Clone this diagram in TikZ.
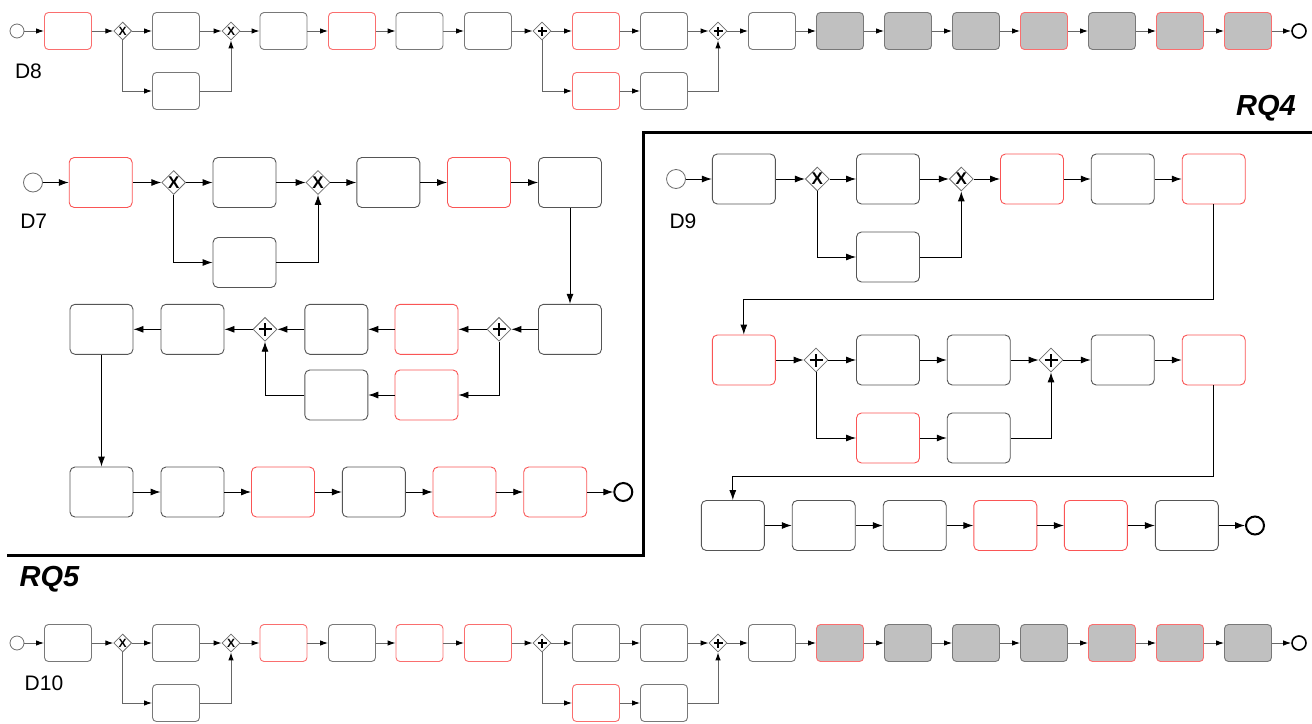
\documentclass[tikz,border=0pt]{standalone}
\usepackage{fontspec}
\setmainfont{Liberation Sans}
\usepackage{tikz}
\usetikzlibrary{shapes.geometric, arrows.meta, positioning, calc}
\definecolor{tline}{RGB}{85,85,85}
\definecolor{tred}{RGB}{250,85,85}
\definecolor{sline}{RGB}{120,120,120}
\definecolor{sred}{RGB}{250,110,110}
\definecolor{gfill}{RGB}{192,192,192}
\definecolor{gwline}{RGB}{110,110,110}
\tikzset{
  task/.style={rectangle, draw=tline, fill=white, rounded corners=5pt,
    minimum width=63pt, minimum height=50pt, inner sep=0pt, line width=0.9pt},
  rtask/.style={task, draw=tred},
  stask/.style={rectangle, draw=sline, fill=white, rounded corners=4pt,
    minimum width=47pt, minimum height=37pt, inner sep=0pt, line width=0.9pt},
  srtask/.style={stask, draw=sred},
  sgtask/.style={stask, fill=gfill},
  sgrtask/.style={stask, fill=gfill, draw=sred},
  xgw/.style={diamond, aspect=1, draw=gwline, fill=white, minimum size=24pt,
    inner sep=0pt, line width=0.8pt, font=\bfseries\fontsize{17}{17}\selectfont},
  sxgw/.style={xgw, minimum size=18pt, font=\bfseries\fontsize{12}{12}\selectfont},
  pgw/.style={xgw, path picture={
    \draw[black, line width=2.2pt] ([xshift=-6.5pt]path picture bounding box.center) -- ([xshift=6.5pt]path picture bounding box.center)
      ([yshift=-6.5pt]path picture bounding box.center) -- ([yshift=6.5pt]path picture bounding box.center);}},
  spgw/.style={sxgw, path picture={
    \draw[black, line width=1.7pt] ([xshift=-4.5pt]path picture bounding box.center) -- ([xshift=4.5pt]path picture bounding box.center)
      ([yshift=-4.5pt]path picture bounding box.center) -- ([yshift=4.5pt]path picture bounding box.center);}},
  start/.style={circle, draw=gwline, fill=white, minimum size=19pt, inner sep=0pt, line width=0.8pt},
  sstart/.style={start, minimum size=14pt},
  mend/.style={circle, draw=black, fill=white, minimum size=18pt, inner sep=0pt, line width=2pt},
  send/.style={mend, minimum size=14pt, line width=1.6pt},
  flow/.style={-{Latex[length=10pt,width=7pt]}, draw=black, line width=0.9pt},
  sflow/.style={-{Latex[length=8pt,width=5.5pt,color=black]}, draw=black!60, line width=1pt},
  dlabel/.style={font=\fontsize{21}{21}\selectfont, inner sep=0pt},
  rqlabel/.style={font=\bfseries\itshape\fontsize{29}{29}\selectfont, inner sep=0pt}
}
\begin{document}
\begin{tikzpicture}[x=1pt, y=-1pt]
  \useasboundingbox (0,0) rectangle (1312,723);
  % Frame between RQ4 and RQ5
  \draw[line width=3pt] (1312,132) -- (643.3,132) -- (643.3,555) -- (7,555);
  \node[rqlabel] (rq4) at (1266,108) {RQ4};
  \node[rqlabel] (rq5) at (49.5,579) {RQ5};

  % D8
  \node[dlabel] (d8lab) at (28.5,71) {D8};
  \node[sstart] (d8s) at (17,31) {};
  \node[srtask] (d8a) at (68,31) {};
  \node[sxgw] (d8x1) at (122.7,31) {X};
  \node[stask] (d8b) at (176,31) {};
  \node[stask] (d8bl) at (176,91) {};
  \node[sxgw] (d8x2) at (231,31) {X};
  \node[stask] (d8c) at (283.5,31) {};
  \node[srtask] (d8d) at (352,31) {};
  \node[stask] (d8e) at (419.5,31) {};
  \node[stask] (d8f) at (488,31) {};
  \node[spgw] (d8p1) at (542,31) {};
  \node[srtask] (d8g) at (596,31) {};
  \node[srtask] (d8gl) at (596,91) {};
  \node[stask] (d8h) at (664,31) {};
  \node[stask] (d8hl) at (664,91) {};
  \node[spgw] (d8p2) at (718,31) {};
  \node[stask] (d8i) at (772,31) {};
  \node[sgtask] (d8j) at (840,31) {};
  \node[sgtask] (d8k) at (908,31) {};
  \node[sgtask] (d8l) at (976,31) {};
  \node[sgrtask] (d8m) at (1044,31) {};
  \node[sgtask] (d8n) at (1112,31) {};
  \node[sgrtask] (d8o) at (1180,31) {};
  \node[sgrtask] (d8p) at (1248,31) {};
  \node[send] (d8end) at (1299,31) {};
  \foreach \a/\b in {d8s/d8a, d8a/d8x1, d8x1/d8b, d8b/d8x2, d8x2/d8c, d8c/d8d, d8d/d8e,
      d8e/d8f, d8f/d8p1, d8p1/d8g, d8g/d8h, d8h/d8p2, d8p2/d8i, d8i/d8j, d8j/d8k,
      d8k/d8l, d8l/d8m, d8m/d8n, d8n/d8o, d8o/d8p, d8p/d8end, d8gl/d8hl}
    \draw[sflow] (\a) -- (\b);
  \draw[sflow] (d8x1.south) |- (d8bl);
  \draw[sflow] (d8bl) -| (d8x2.south);
  \draw[sflow] (d8p1.south) |- (d8gl);
  \draw[sflow] (d8hl) -| (d8p2.south);

  % D7
  \node[dlabel] (d7lab) at (33.7,221) {D7};
  \node[start] (d7s) at (33,182.5) {};
  \node[rtask] (d7a) at (100.7,182.5) {};
  \node[xgw] (d7x1) at (173.7,182.5) {X};
  \node[task] (d7b) at (244.5,182.5) {};
  \node[task] (d7bl) at (244.5,262.5) {};
  \node[xgw] (d7x2) at (318,182.5) {X};
  \node[task] (d7c) at (388.3,182.5) {};
  \node[rtask] (d7d) at (479,182.5) {};
  \node[task] (d7e) at (570,182.5) {};
  \node[task] (d7f) at (570,329.3) {};
  \node[pgw] (d7p1) at (499,329.3) {};
  \node[rtask] (d7g) at (426.5,329.3) {};
  \node[rtask] (d7gl) at (426.5,395) {};
  \node[task] (d7h) at (336.3,329.3) {};
  \node[task] (d7hl) at (336.3,395) {};
  \node[pgw] (d7p2) at (265,329.3) {};
  \node[task] (d7i) at (192.5,329.3) {};
  \node[task] (d7j) at (101.5,329.3) {};
  \node[task] (d7k) at (101.5,492) {};
  \node[task] (d7l) at (192.5,492) {};
  \node[rtask] (d7m) at (283,492) {};
  \node[task] (d7n) at (373.8,492) {};
  \node[rtask] (d7o) at (464.5,492) {};
  \node[rtask] (d7p) at (555.2,492) {};
  \node[mend] (d7end) at (623.3,492) {};
  \foreach \a/\b in {d7s/d7a, d7a/d7x1, d7x1/d7b, d7b/d7x2, d7x2/d7c, d7c/d7d, d7d/d7e,
      d7e/d7f, d7f/d7p1, d7p1/d7g, d7g/d7h, d7h/d7p2, d7p2/d7i, d7i/d7j, d7j/d7k,
      d7k/d7l, d7l/d7m, d7m/d7n, d7n/d7o, d7o/d7p, d7p/d7end, d7gl/d7hl}
    \draw[flow] (\a) -- (\b);
  \draw[flow] (d7x1.south) |- (d7bl);
  \draw[flow] (d7bl) -| (d7x2.south);
  \draw[flow] (d7p1.south) |- (d7gl);
  \draw[flow] (d7hl) -| (d7p2.south);

  % D9
  \node[dlabel] (d9lab) at (683,221) {D9};
  \node[start] (d9s) at (676,179) {};
  \node[task] (d9a) at (743.8,179) {};
  \node[xgw] (d9x1) at (817.3,179) {X};
  \node[task] (d9b) at (888,179) {};
  \node[task] (d9bl) at (888,257) {};
  \node[xgw] (d9x2) at (961.3,179) {X};
  \node[rtask] (d9c) at (1032,179) {};
  \node[task] (d9d) at (1122.7,179) {};
  \node[rtask] (d9e) at (1213.7,179) {};
  \node[rtask] (d9f) at (743.8,360) {};
  \node[pgw] (d9p1) at (816,360) {};
  \node[task] (d9g) at (888,360) {};
  \node[rtask] (d9gl) at (888,438) {};
  \node[task] (d9h) at (978.7,360) {};
  \node[task] (d9hl) at (978.7,438) {};
  \node[pgw] (d9p2) at (1051,360) {};
  \node[task] (d9i) at (1122.7,360) {};
  \node[rtask] (d9j) at (1213.7,360) {};
  \node[task] (d9k) at (732.8,525.5) {};
  \node[task] (d9l) at (823.7,525.5) {};
  \node[task] (d9m) at (914.7,525.5) {};
  \node[rtask] (d9n) at (1005.3,525.5) {};
  \node[rtask] (d9o) at (1095.8,525.5) {};
  \node[task] (d9p) at (1186.8,525.5) {};
  \node[mend] (d9end) at (1255,525.5) {};
  \foreach \a/\b in {d9s/d9a, d9a/d9x1, d9x1/d9b, d9b/d9x2, d9x2/d9c, d9c/d9d, d9d/d9e,
      d9f/d9p1, d9p1/d9g, d9g/d9h, d9h/d9p2, d9p2/d9i, d9i/d9j, d9gl/d9hl,
      d9k/d9l, d9l/d9m, d9m/d9n, d9n/d9o, d9o/d9p, d9p/d9end}
    \draw[flow] (\a) -- (\b);
  \draw[flow] (d9x1.south) |- (d9bl);
  \draw[flow] (d9bl) -| (d9x2.south);
  \draw[flow] (d9p1.south) |- (d9gl);
  \draw[flow] (d9hl) -| (d9p2.south);
  \draw[flow] (d9e.south) |- ([yshift=35pt]d9f.north) -- (d9f.north);
  \draw[flow] (d9j.south) |- ([yshift=24pt]d9k.north) -- (d9k.north);

  % D10
  \node[dlabel] (d10lab) at (44,683) {D10};
  \node[sstart] (d10s) at (17,643) {};
  \node[stask] (d10a) at (68,643) {};
  \node[sxgw] (d10x1) at (122.7,643) {X};
  \node[stask] (d10b) at (176,643) {};
  \node[stask] (d10bl) at (176,703) {};
  \node[sxgw] (d10x2) at (231,643) {X};
  \node[srtask] (d10c) at (283.5,643) {};
  \node[stask] (d10d) at (352,643) {};
  \node[srtask] (d10e) at (419.5,643) {};
  \node[srtask] (d10f) at (488,643) {};
  \node[spgw] (d10p1) at (542,643) {};
  \node[stask] (d10g) at (596,643) {};
  \node[srtask] (d10gl) at (596,703) {};
  \node[stask] (d10h) at (664,643) {};
  \node[stask] (d10hl) at (664,703) {};
  \node[spgw] (d10p2) at (718,643) {};
  \node[stask] (d10i) at (772,643) {};
  \node[sgrtask] (d10j) at (840,643) {};
  \node[sgtask] (d10k) at (908,643) {};
  \node[sgtask] (d10l) at (976,643) {};
  \node[sgtask] (d10m) at (1044,643) {};
  \node[sgrtask] (d10n) at (1112,643) {};
  \node[sgrtask] (d10o) at (1180,643) {};
  \node[sgtask] (d10p) at (1248,643) {};
  \node[send] (d10end) at (1299,643) {};
  \foreach \a/\b in {d10s/d10a, d10a/d10x1, d10x1/d10b, d10b/d10x2, d10x2/d10c, d10c/d10d,
      d10d/d10e, d10e/d10f, d10f/d10p1, d10p1/d10g, d10g/d10h, d10h/d10p2, d10p2/d10i,
      d10i/d10j, d10j/d10k, d10k/d10l, d10l/d10m, d10m/d10n, d10n/d10o, d10o/d10p,
      d10p/d10end, d10gl/d10hl}
    \draw[sflow] (\a) -- (\b);
  \draw[sflow] (d10x1.south) |- (d10bl);
  \draw[sflow] (d10bl) -| (d10x2.south);
  \draw[sflow] (d10p1.south) |- (d10gl);
  \draw[sflow] (d10hl) -| (d10p2.south);
\end{tikzpicture}
\end{document}
